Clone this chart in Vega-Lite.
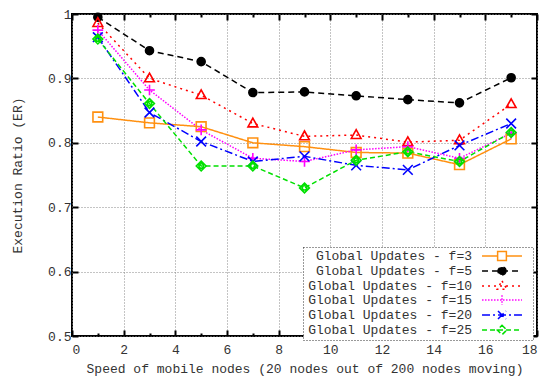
{
  "$schema": "https://vega.github.io/schema/vega-lite/v6.json",
  "width": 465,
  "height": 322,
  "autosize": {"type": "none"},
  "padding": {"left": 72, "top": 14, "right": 12, "bottom": 43},
  "background": "white",
  "config": {
    "view": {"stroke": "black", "strokeWidth": 2},
    "axis": {
      "domain": false,
      "tickColor": "black",
      "tickWidth": 2,
      "gridColor": "#888888",
      "gridDash": [1, 2],
      "gridWidth": 1,
      "labelFont": "Liberation Mono",
      "labelFontSize": 13,
      "labelColor": "#333333",
      "titleFont": "Liberation Mono",
      "titleFontSize": 13,
      "titleFontWeight": "normal",
      "titleColor": "#333333"
    }
  },
  "data": {
    "values": [
      {"x": 1, "y": 0.840, "series": "Global Updates - f=3"},
      {"x": 3, "y": 0.831, "series": "Global Updates - f=3"},
      {"x": 5, "y": 0.825, "series": "Global Updates - f=3"},
      {"x": 7, "y": 0.800, "series": "Global Updates - f=3"},
      {"x": 9, "y": 0.794, "series": "Global Updates - f=3"},
      {"x": 11, "y": 0.785, "series": "Global Updates - f=3"},
      {"x": 13, "y": 0.784, "series": "Global Updates - f=3"},
      {"x": 15, "y": 0.766, "series": "Global Updates - f=3"},
      {"x": 17, "y": 0.806, "series": "Global Updates - f=3"},
      {"x": 1, "y": 0.995, "series": "Global Updates - f=5"},
      {"x": 3, "y": 0.943, "series": "Global Updates - f=5"},
      {"x": 5, "y": 0.926, "series": "Global Updates - f=5"},
      {"x": 7, "y": 0.878, "series": "Global Updates - f=5"},
      {"x": 9, "y": 0.879, "series": "Global Updates - f=5"},
      {"x": 11, "y": 0.873, "series": "Global Updates - f=5"},
      {"x": 13, "y": 0.867, "series": "Global Updates - f=5"},
      {"x": 15, "y": 0.862, "series": "Global Updates - f=5"},
      {"x": 17, "y": 0.901, "series": "Global Updates - f=5"},
      {"x": 1, "y": 0.986, "series": "Global Updates - f=10"},
      {"x": 3, "y": 0.900, "series": "Global Updates - f=10"},
      {"x": 5, "y": 0.874, "series": "Global Updates - f=10"},
      {"x": 7, "y": 0.830, "series": "Global Updates - f=10"},
      {"x": 9, "y": 0.810, "series": "Global Updates - f=10"},
      {"x": 11, "y": 0.812, "series": "Global Updates - f=10"},
      {"x": 13, "y": 0.801, "series": "Global Updates - f=10"},
      {"x": 15, "y": 0.804, "series": "Global Updates - f=10"},
      {"x": 17, "y": 0.860, "series": "Global Updates - f=10"},
      {"x": 1, "y": 0.975, "series": "Global Updates - f=15"},
      {"x": 3, "y": 0.882, "series": "Global Updates - f=15"},
      {"x": 5, "y": 0.820, "series": "Global Updates - f=15"},
      {"x": 7, "y": 0.776, "series": "Global Updates - f=15"},
      {"x": 9, "y": 0.771, "series": "Global Updates - f=15"},
      {"x": 11, "y": 0.789, "series": "Global Updates - f=15"},
      {"x": 13, "y": 0.794, "series": "Global Updates - f=15"},
      {"x": 15, "y": 0.776, "series": "Global Updates - f=15"},
      {"x": 17, "y": 0.815, "series": "Global Updates - f=15"},
      {"x": 1, "y": 0.964, "series": "Global Updates - f=20"},
      {"x": 3, "y": 0.847, "series": "Global Updates - f=20"},
      {"x": 5, "y": 0.802, "series": "Global Updates - f=20"},
      {"x": 7, "y": 0.771, "series": "Global Updates - f=20"},
      {"x": 9, "y": 0.779, "series": "Global Updates - f=20"},
      {"x": 11, "y": 0.765, "series": "Global Updates - f=20"},
      {"x": 13, "y": 0.758, "series": "Global Updates - f=20"},
      {"x": 15, "y": 0.796, "series": "Global Updates - f=20"},
      {"x": 17, "y": 0.830, "series": "Global Updates - f=20"},
      {"x": 1, "y": 0.961, "series": "Global Updates - f=25"},
      {"x": 3, "y": 0.861, "series": "Global Updates - f=25"},
      {"x": 5, "y": 0.764, "series": "Global Updates - f=25"},
      {"x": 7, "y": 0.764, "series": "Global Updates - f=25"},
      {"x": 9, "y": 0.730, "series": "Global Updates - f=25"},
      {"x": 11, "y": 0.773, "series": "Global Updates - f=25"},
      {"x": 13, "y": 0.786, "series": "Global Updates - f=25"},
      {"x": 15, "y": 0.771, "series": "Global Updates - f=25"},
      {"x": 17, "y": 0.816, "series": "Global Updates - f=25"}
    ]
  },
  "layer": [
    {
      "mark": {"type": "line", "strokeWidth": 1.5},
      "encoding": {
        "x": {
          "field": "x", "type": "quantitative",
          "scale": {"domain": [0, 18], "nice": false},
          "axis": {
            "orient": "bottom",
            "values": [0,1,2,3,4,5,6,7,8,9,10,11,12,13,14,15,16,17,18],
            "labelExpr": "datum.value % 2 === 0 ? datum.label : ''",
            "tickSize": {"condition": {"test": "datum.value % 2 === 0", "value": -6}, "value": -3},
            "grid": true,
            "gridOpacity": {"condition": {"test": "datum.value % 2 === 0", "value": 1}, "value": 0},
            "labelPadding": 13,
            "titlePadding": 6,
            "title": "Speed of mobile nodes (20 nodes out of 200 nodes moving)"
          }
        },
        "y": {
          "field": "y", "type": "quantitative",
          "scale": {"domain": [0.5, 1], "nice": false},
          "axis": {
            "orient": "left",
            "values": [0.5, 0.6, 0.7, 0.8, 0.9, 1],
            "format": ".1~f",
            "tickSize": -6,
            "grid": true,
            "labelPadding": 7,
            "titlePadding": 23,
            "title": "Execution Ratio (ER)"
          }
        },
        "color": {
          "field": "series", "type": "nominal",
          "scale": {
            "domain": ["Global Updates - f=3", "Global Updates - f=5", "Global Updates - f=10", "Global Updates - f=15", "Global Updates - f=20", "Global Updates - f=25"],
            "range": ["#FF9010", "#000000", "#FF0000", "#FF00FF", "#0000FF", "#00E000"]
          },
          "legend": {
            "orient": "none",
            "legendX": 231,
            "legendY": 233,
            "title": null,
            "direction": "vertical",
            "labelFont": "Liberation Mono",
            "labelFontSize": 13,
            "labelColor": "#333333",
            "labelAlign": "right",
            "labelLimit": 300,
            "labelOffset": -37,
            "symbolOffset": 190,
            "symbolSize": 144,
            "symbolStrokeWidth": 1.5,
            "rowPadding": -3.5,
            "padding": 2,
            "fillColor": "white",
            "strokeColor": "#333333",
            "encode": {
              "legend": {"update": {"strokeDash": {"value": [1, 2]}}},
              "symbols": {
                "update": {
                  "shape": {"signal": "{'Global Updates - f=3': 'M-3.33,0H-0.73M0.73,0H3.33M-0.73,-0.73H0.73V0.73H-0.73ZM4.2,0', 'Global Updates - f=5': 'M-3.33,0H3.33M0.67,0A0.67,0.67,0,1,1,-0.67,0A0.67,0.67,0,1,1,0.67,0ZM4.2,0', 'Global Updates - f=10': 'M-3.33,0H3.33M0,-0.87L0.8,0.53H-0.8ZM4.2,0', 'Global Updates - f=15': 'M-3.33,0H3.33M0,-0.8V0.8M4.2,0', 'Global Updates - f=20': 'M-3.33,0H3.33M-0.67,-0.67L0.67,0.67M-0.67,0.67L0.67,-0.67M4.2,0', 'Global Updates - f=25': 'M-3.33,0H3.33M0,-0.8L0.8,0L0,0.8L-0.8,0ZM4.2,0'}[datum.value]"},
                  "fill": {"signal": "datum.value === 'Global Updates - f=5' ? 'black' : 'transparent'"}
                }
              }
            }
          }
        },
        "strokeDash": {
          "field": "series", "type": "nominal",
          "scale": {
            "domain": ["Global Updates - f=3", "Global Updates - f=5", "Global Updates - f=10", "Global Updates - f=15", "Global Updates - f=20", "Global Updates - f=25"],
            "range": [[1, 0], [6, 4], [2, 4], [1.5, 1.5], [8, 3, 2, 3], [5, 3]]
          }
        }
      }
    },
    {
      "mark": {"type": "point", "filled": false, "strokeWidth": 1.6, "opacity": 1},
      "encoding": {
        "x": {
          "field": "x", "type": "quantitative",
          "axis": {
            "orient": "top",
            "values": [0,1,2,3,4,5,6,7,8,9,10,11,12,13,14,15,16,17,18],
            "labels": false,
            "grid": false,
            "tickSize": {"condition": {"test": "datum.value % 2 === 0", "value": -6}, "value": -3},
            "title": null
          }
        },
        "y": {
          "field": "y", "type": "quantitative",
          "axis": {
            "orient": "right",
            "values": [0.5, 0.6, 0.7, 0.8, 0.9, 1],
            "labels": false,
            "grid": false,
            "tickSize": -6,
            "title": null
          }
        },
        "color": {"field": "series", "type": "nominal", "legend": null},
        "shape": {
          "condition": [
            {"test": "datum.series === 'Global Updates - f=3'", "value": "M-1,-1H1V1H-1Z"},
            {"test": "datum.series === 'Global Updates - f=5'", "value": "circle"},
            {"test": "datum.series === 'Global Updates - f=10'", "value": "M0,-1.1L1,0.7H-1Z"},
            {"test": "datum.series === 'Global Updates - f=15'", "value": "M-1.1,0H1.1M0,-1.1V1.1"},
            {"test": "datum.series === 'Global Updates - f=20'", "value": "M-1,-1L1,1M-1,1L1,-1"}
          ],
          "value": "M0,-1L1,0L0,1L-1,0ZM0.45,0A0.45,0.45,0,1,1,-0.45,0A0.45,0.45,0,1,1,0.45,0"
        },
        "size": {
          "condition": {"test": "datum.series === 'Global Updates - f=5'", "value": 64},
          "value": 95
        },
        "fill": {
          "condition": {"test": "datum.series === 'Global Updates - f=5'", "value": "black"},
          "value": "transparent"
        }
      }
    }
  ],
  "resolve": {"axis": {"x": "independent", "y": "independent"}}
}
